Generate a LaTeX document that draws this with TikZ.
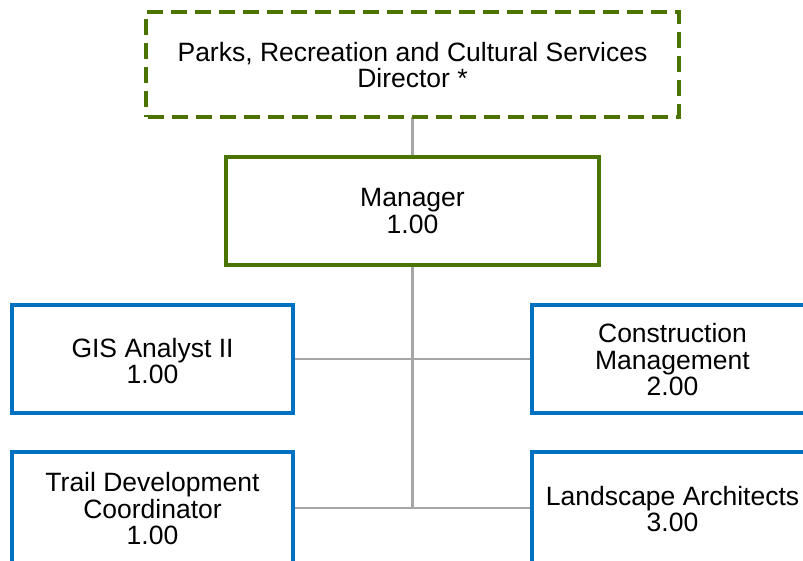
\documentclass[tikz,border=0pt]{standalone}
\usepackage{fontspec}
\setmainfont{Liberation Sans}
\definecolor{boxgreen}{HTML}{4A7300}
\definecolor{boxblue}{HTML}{0070C0}
\definecolor{linegray}{HTML}{A6A6A6}
\begin{document}
\begin{tikzpicture}[x=1pt,y=1pt,
  lbl/.style={align=center,font=\fontsize{26.5}{26.5}\selectfont,inner sep=0pt},
  greenbox/.style={draw=boxgreen,line width=3.5pt,fill=white},
  bluebox/.style={draw=boxblue,line width=3.5pt,fill=white},
  conn/.style={draw=linegray,line width=2.5pt}]
\useasboundingbox (0,0) rectangle (803,561);
\clip (0,0) rectangle (803,561);
% boxes (y = 561 - pixel y)
\coordinate (dirC) at (412.5,496.5);
\coordinate (mgrC) at (412.5,350);
\coordinate (gisC) at (152.5,202);
\coordinate (conC) at (672.5,202);
\coordinate (trlC) at (152.5,53);
\coordinate (lanC) at (672.5,53);
% connectors first
\coordinate (mid1) at (412.5,202);
\coordinate (mid2) at (412.5,53);
\draw[conn] (dirC) -- (mid2);
\draw[conn] (gisC) -- (conC);
\draw[conn] (trlC) -- (lanC);
\node[greenbox,dash pattern=on 16pt off 8pt,dash phase=-2pt,minimum width=533pt,minimum height=105pt] (dir) at (dirC) {};
\node[greenbox,minimum width=373pt,minimum height=108pt] (mgr) at (mgrC) {};
\node[bluebox,minimum width=281pt,minimum height=108pt] (gis) at (gisC) {};
\node[bluebox,minimum width=281pt,minimum height=108pt] (con) at (conC) {};
\node[bluebox,minimum width=281pt,minimum height=112pt] (trl) at (trlC) {};
\node[bluebox,minimum width=281pt,minimum height=112pt] (lan) at (lanC) {};
\node[lbl] (dirT) at (412.5,496) {Parks, Recreation and Cultural Services\\Director *};
\node[lbl] (mgrT) at (412.5,350) {Manager\\1.00};
\node[lbl] (gisT) at (152.5,200) {GIS Analyst II\\1.00};
\node[lbl] (conT) at (672.5,201) {Construction\\Management\\2.00};
\node[lbl] (trlT) at (152.5,52) {Trail Development\\Coordinator\\1.00};
\node[lbl] (lanT) at (672.5,52) {Landscape Architects\\3.00};
\end{tikzpicture}
\end{document}
